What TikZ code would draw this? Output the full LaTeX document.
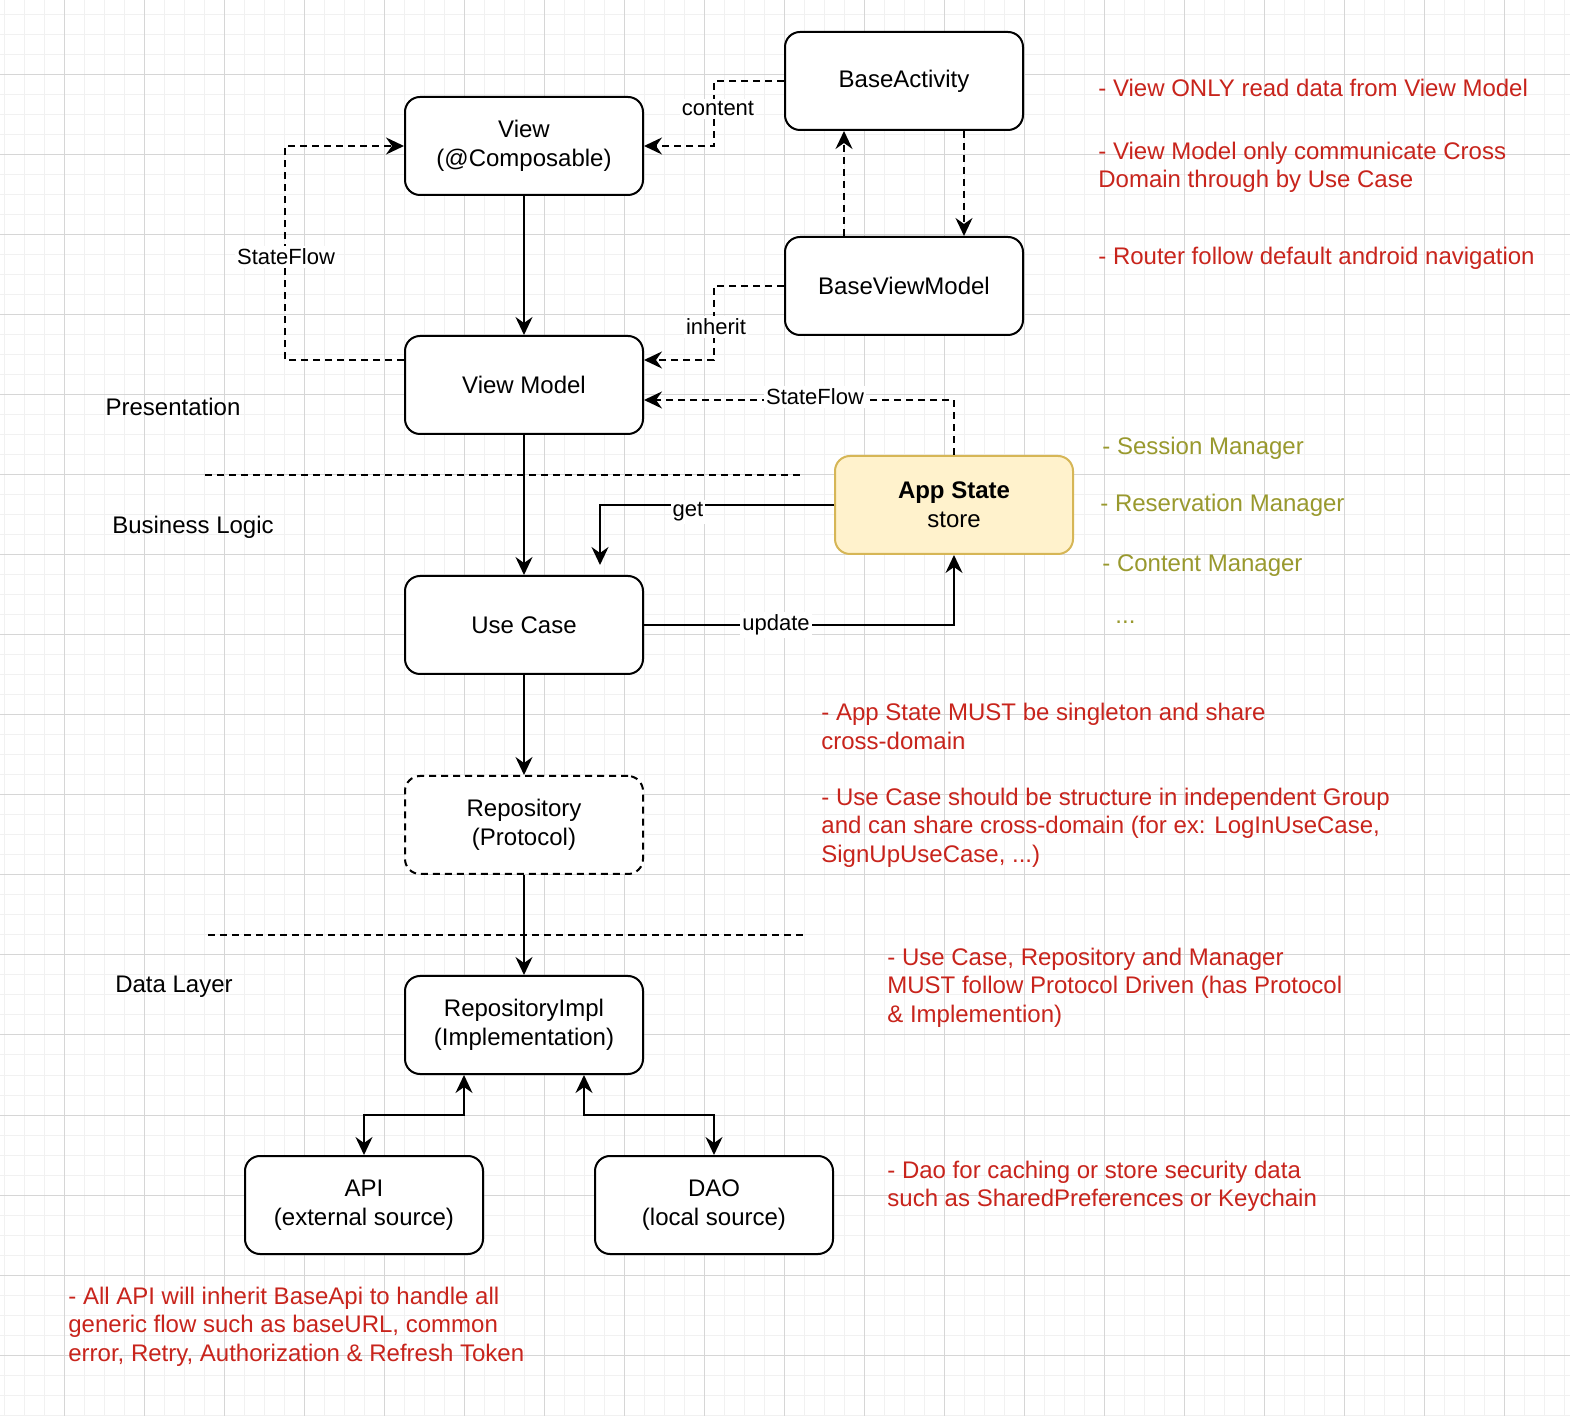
\documentclass[tikz,border=0pt]{standalone}
\usepackage{fontspec}
\setmainfont{Liberation Sans}
\usetikzlibrary{
		calc,
		positioning,
		arrows.meta
	}
\definecolor{notered}{HTML}{C8241C}
\definecolor{noteolive}{HTML}{99992E}
\definecolor{appfill}{HTML}{FFF2CC}
\definecolor{appline}{HTML}{D6B656}
\definecolor{gridminor}{HTML}{F1F1F1}
\definecolor{gridmajor}{HTML}{D6D6D6}
\tikzset{
		>={Stealth[length=9pt,width=8.5pt,inset=3pt]},
		layer/.style={draw, line width=1pt, rounded corners=7.5pt, fill=white, minimum width=119pt, minimum height=49pt, align=center},
		flow/.style={->, line width=1pt},
		dflow/.style={flow, dash pattern=on 3.5pt off 2.5pt},
		sep/.style={line width=1pt, dash pattern=on 3.5pt off 2.5pt},
		lbl/.style={fill=white, inner xsep=1pt, inner ysep=1.5pt, yshift=-1pt, font=\fontsize{11}{13}\selectfont},
		tier/.style={yshift=-1pt},
		note/.style={anchor=west, align=left, inner sep=0pt, yshift=-1.2pt, text=notered},
		manager/.style={note, text=noteolive}
	}

\begin{document}
\begin{tikzpicture}[x=0.5pt, y=-0.5pt, font=\fontsize{12}{14.3}\selectfont]
		\useasboundingbox (0,0) rectangle (1570,1416);
		\fill[white] (0,0) rectangle (1570,1416);
		\foreach \x in {4,24,...,1564} \draw[gridminor, line width=0.5pt] (\x,0) -- (\x,1416);
		\foreach \y in {15,35,...,1415} \draw[gridminor, line width=0.5pt] (0,\y) -- (1570,\y);
		\foreach \x in {64,144,...,1504} \draw[gridmajor, line width=0.5pt] (\x,0) -- (\x,1416);
		\foreach \y in {75,155,...,1355} \draw[gridmajor, line width=0.5pt] (0,\y) -- (1570,\y);

		\draw[sep] (205,475) -- (800,475);
		\draw[sep] (208,935) -- (803,935);
		\node[tier] (presentation) at (173,405) {Presentation};
		\node[tier] (business) at (193,525) {Business Logic};
		\node[tier] (datalayer) at (174,985) {Data Layer};

		\node[layer] (activity) at (904,81) {BaseActivity};
		\node[layer] (view) at (524,146) {View\\(@Composable)};
		\node[layer] (baseVM) at (904,286) {BaseViewModel};
		\node[layer] (viewModel) at (524,385) {View Model};
		\node[layer, fill=appfill, draw=appline] (appState) at (954,505) {\textbf{App State}\\store};
		\node[layer] (useCase) at (524,625) {Use Case};
		\node[layer, dash pattern=on 3.5pt off 2.5pt] (repo) at (524,825) {Repository\\(Protocol)};
		\node[layer] (repoImpl) at (524,1025) {RepositoryImpl\\(Implementation)};
		\node[layer] (api) at (364,1205) {API\\(external source)};
		\node[layer] (dao) at (714,1205) {DAO\\(local source)};

		\draw[dflow] (activity.west) -- ++(-70,0) |- (view.east);
		\draw[dflow] (baseVM.west) -- ++(-70,0) |- ($(viewModel.east)+(0,-25)$);
		\draw[dflow] ($(baseVM.north west)!0.25!(baseVM.north east)$) -- ($(activity.south west)!0.25!(activity.south east)$);
		\draw[dflow] ($(activity.south west)!0.75!(activity.south east)$) -- ($(baseVM.north west)!0.75!(baseVM.north east)$);
		\draw[dflow] ($(viewModel.west)+(0,-25)$) -- ++(-119,0) |- (view.west);
		\draw[dflow] (appState.north) |- ($(viewModel.east)+(0,15)$);
		\draw[flow] (view) -- (viewModel);
		\draw[flow] (viewModel) -- (useCase);
		\draw[flow] (appState.west) -| ($(useCase.north west)!0.8167!(useCase.north east)+(0,-10)$);
		\draw[flow] (useCase.east) -| (appState.south);
		\draw[flow] (useCase) -- (repo);
		\draw[flow] (repo) -- (repoImpl);
		\draw[flow, <->] ($(repoImpl.south west)!0.25!(repoImpl.south east)$) -- ++(0,40) -| (api.north);
		\draw[flow, <->] ($(repoImpl.south west)!0.75!(repoImpl.south east)$) -- ++(0,40) -| (dao.north);

		\node[lbl] (lcontent) at (718,107) {content};
		\node[lbl] (linherit) at (716,325) {inherit};
		\node[lbl] (lviewflow) at (286,255) {StateFlow};
		\node[lbl] (lappflow) at (815,395) {StateFlow};
		\node[lbl] (lget) at (688,510) {get};
		\node[lbl] (lupdate) at (776,623) {update};

		\node[note] (nRead) at (1098,86) {- View ONLY read data from View Model};
		\node[note] (nCross) at (1098,165) {- View Model only communicate Cross\\Domain through by Use Case};
		\node[note] (nRouter) at (1098,256) {- Router follow default android navigation};
		\node[manager] (mSession) at (1102,446) {- Session Manager};
		\node[manager] (mReserve) at (1100,503) {- Reservation Manager};
		\node[manager] (mContent) at (1102,563) {- Content Manager};
		\node[manager] (mMore) at (1115,620) {...};
		\node[note] (nSingleton) at (821,724) {- App State MUST be singleton and share\\cross-domain};
		\node[note] (nGroup) at (821,825) {- Use Case should be structure in independent Group\\and can share cross-domain (for ex: LogInUseCase,\\SignUpUseCase, ...)};
		\node[note] (nProtocol) at (887,985) {- Use Case, Repository and Manager\\MUST follow Protocol Driven (has Protocol\\\& Implemention)};
		\node[note] (nDao) at (887,1184) {- Dao for caching or store security data\\such as SharedPreferences or Keychain};
		\node[note] (nApi) at (68,1324) {- All API will inherit BaseApi to handle all\\generic flow such as baseURL, common\\error, Retry, Authorization \& Refresh Token};
	\end{tikzpicture}
\end{document}
